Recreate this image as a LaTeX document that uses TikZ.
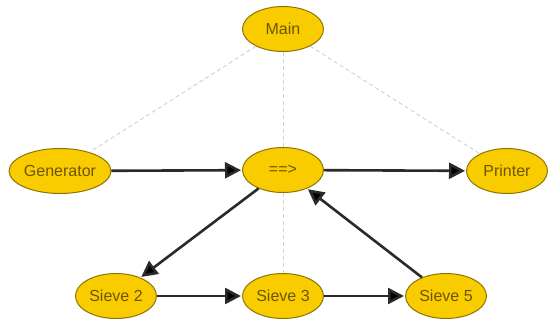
\documentclass[tikz,border=0pt]{standalone}
\usepackage{fontspec}
\setmainfont{Liberation Sans}
\usetikzlibrary{shapes.geometric,arrows.meta}
\definecolor{nodefill}{HTML}{F9CC00}
\definecolor{nodeborder}{HTML}{8C7400}
\definecolor{nodetext}{HTML}{6E5500}
\definecolor{dashgray}{HTML}{D0D0D0}
\definecolor{arrowgray}{HTML}{2A2A2A}
\tikzset{
  ell/.style={ellipse, draw=nodeborder, line width=1pt, fill=nodefill,
    minimum width=81pt, minimum height=45pt, inner sep=0pt,
    text=nodetext, font=\fontsize{16}{16}\selectfont},
  link/.style={draw=dashgray, line width=0.9pt, dash pattern=on 4pt off 3pt},
  flow/.style={draw=arrowgray, line width=2.6pt,
    -{Triangle[length=16pt,width=16pt,fill=black]}, shorten >=1pt}
}
\begin{document}
\begin{tikzpicture}[x=1pt,y=-1pt]
\useasboundingbox (0,0) rectangle (553,322);
\node[ell] (main) at (283,29) {Main};
\node[ell] (gen) at (60,171) {Generator};
\node[ell] (op) at (283,170) {==>};
\node[ell] (prn) at (507,171) {Printer};
\node[ell] (s2) at (116,296) {Sieve 2};
\node[ell] (s3) at (283,296) {Sieve 3};
\node[ell] (s5) at (446,296) {Sieve 5};
\draw[link] (main) -- (gen);
\draw[link] (main) -- (op);
\draw[link] (main) -- (prn);
\draw[link] (op) -- (s3);
\draw[flow] (gen) -- (op);
\draw[flow] (op) -- (prn);
\draw[flow] (op) -- (s2);
\draw[flow] (s2) -- (s3);
\draw[flow] (s3) -- (s5);
\draw[flow] (s5) -- (op);
\end{tikzpicture}
\end{document}
